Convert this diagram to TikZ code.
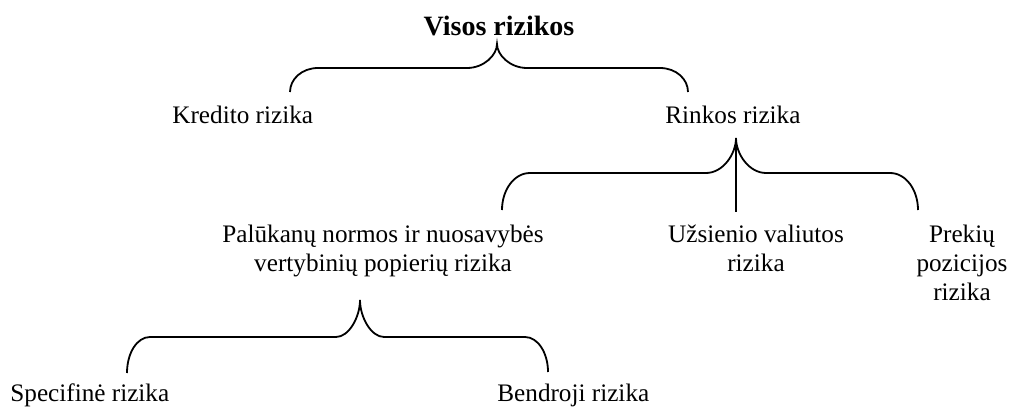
\documentclass[tikz,border=0pt]{standalone}
\usepackage{fontspec}
\setmainfont{Liberation Serif}
\tikzset{>=latex}
\usetikzlibrary{calc}
\tikzset{
  lbl/.style={inner sep=0pt,align=center,font=\fontsize{12.6}{14.5}\selectfont},
  brace/.style={line width=0.9pt},
}

\begin{document}
\begin{tikzpicture}[x=0.5pt,y=-0.5pt]
  \useasboundingbox (0,0) rectangle (1016,407);
  % labels
  \node[lbl,anchor=base,font=\fontsize{14}{16}\selectfont\bfseries] (visos) at (499,35) {Visos rizikos};
  \node[lbl,anchor=base west] (kred) at (172,123) {Kredito rizika};
  \node[lbl,anchor=base west] (rink) at (665,123) {Rinkos rizika};
  \node[lbl,anchor=base] (pal) at (383,271) {Palūkanų normos ir nuosavybės\\vertybinių popierių rizika};
  \node[lbl,anchor=base] (uzs) at (756,271) {Užsienio valiutos\\rizika};
  \node[lbl,anchor=base] (prek) at (962,300) {Prekių\\pozicijos\\rizika};
  \node[lbl,anchor=base west] (spec) at (10,401) {Specifinė rizika};
  \node[lbl,anchor=base west] (bendr) at (497,401) {Bendroji rizika};
  % brace ends
  \coordinate (b1l) at (290,92);
  \coordinate (b1c) at (497,44);
  \coordinate (b1r) at (688,92);
  \coordinate (b2l) at (502,210);
  \coordinate (b2c) at (736,138);
  \coordinate (b2r) at (918,210);
  \coordinate (b2m) at (736,212);
  \coordinate (b3l) at (127,373);
  \coordinate (b3c) at (360,300);
  \coordinate (b3r) at (548,372);
  % braces
  \draw[brace] (b1l) .. controls ($(b1l)+(0,-13)$) and ($(b1l)+(12,-24)$) .. ($(b1l)+(28,-24)$)
    -- ($(b1c)+(-30,24)$) .. controls ($(b1c)+(-13,24)$) and ($(b1c)+(0,11)$) .. (b1c)
    .. controls ($(b1c)+(0,11)$) and ($(b1c)+(13,24)$) .. ($(b1c)+(30,24)$)
    -- ($(b1r)+(-28,-24)$) .. controls ($(b1r)+(-12,-24)$) and ($(b1r)+(0,-13)$) .. (b1r);
  \draw[brace] (b2l) .. controls ($(b2l)+(0,-20)$) and ($(b2l)+(12,-37)$) .. ($(b2l)+(28,-37)$)
    -- ($(b2c)+(-30,35)$) .. controls ($(b2c)+(-13,35)$) and ($(b2c)+(0,16)$) .. (b2c)
    .. controls ($(b2c)+(0,16)$) and ($(b2c)+(13,35)$) .. ($(b2c)+(30,35)$)
    -- ($(b2r)+(-28,-37)$) .. controls ($(b2r)+(-12,-37)$) and ($(b2r)+(0,-20)$) .. (b2r);
  \draw[brace] (b2c) -- (b2m);
  \draw[brace] (b3l) .. controls ($(b3l)+(0,-20)$) and ($(b3l)+(10,-36)$) .. ($(b3l)+(23,-36)$)
    -- ($(b3c)+(-24,37)$) .. controls ($(b3c)+(-11,37)$) and ($(b3c)+(0,17)$) .. (b3c)
    .. controls ($(b3c)+(0,17)$) and ($(b3c)+(11,37)$) .. ($(b3c)+(24,37)$)
    -- ($(b3r)+(-23,-35)$) .. controls ($(b3r)+(-10,-35)$) and ($(b3r)+(0,-19)$) .. (b3r);
\end{tikzpicture}
\end{document}
